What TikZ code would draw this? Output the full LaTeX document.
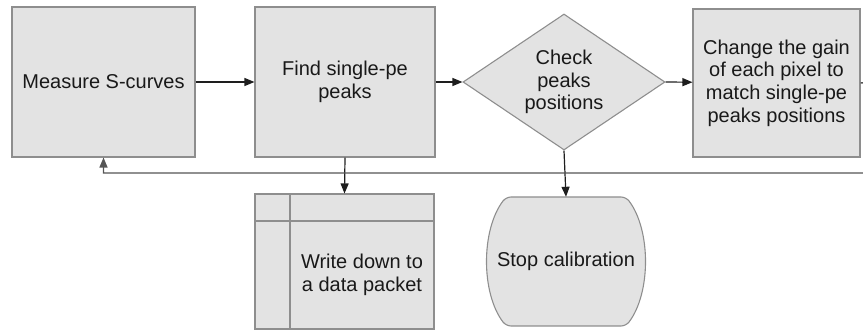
\documentclass[tikz,border=0pt]{standalone}
\usepackage{fontspec}
\setmainfont{Liberation Sans}
\usetikzlibrary{shapes.geometric,arrows.meta}
\definecolor{boxfill}{HTML}{E3E3E3}
\definecolor{boxline}{HTML}{8E8E8E}
\definecolor{linkline}{HTML}{1E1E1E}
\definecolor{loopline}{HTML}{555555}
\begin{document}
\begin{tikzpicture}[x=1pt,y=-1pt,
  every node/.style={font=\fontsize{20}{22.6}\selectfont, text=black!90, align=center},
  stepbox/.style={draw=boxline, fill=boxfill, line width=1.1pt, inner sep=2pt},
  decision/.style={diamond, draw=boxline, fill=boxfill, line width=1.1pt, inner sep=1pt,
                   aspect=1.485, minimum width=202pt, minimum height=136pt},
  outline/.style={draw=boxline, fill=boxfill, line width=1.1pt},
  link/.style={draw=linkline, line width=1.2pt, -{Triangle[length=10pt,width=8pt]}},
  loop/.style={draw=loopline, line width=1.4pt, -{Triangle[length=10pt,width=8pt]}}]
\useasboundingbox (0,0) rectangle (863,331);

% main row of steps
\node[stepbox, minimum width=183pt, minimum height=150pt] (m) at (103.5,82) {Measure S-curves};
\node[stepbox, minimum width=180pt, minimum height=150pt] (f) at (345,82) {Find single-pe\\peaks};
\node[decision] (c) at (564,82) {Check\\peaks\\positions};
\node[stepbox, minimum width=167pt, minimum height=148pt] (g) at (776.5,83)
  {Change the gain\\of each pixel to\\match single-pe\\peaks positions};

% stored data block with its header strips
\node[stepbox, minimum width=179pt, minimum height=135pt] (w) at (344.5,261.5) {};
\draw[boxline, line width=1.1pt] (290,194) -- (290,329);
\draw[boxline, line width=1.1pt] (255,221) -- (434,221);
\node (wt) at (362,275) {Write down to\\a data packet};

% terminal step with bulging sides
\draw[outline, rounded corners=5pt] (566,197) -- (626,197)
  .. controls (651,230) and (651,293) .. (626,326)
  -- (506,326) .. controls (481,293) and (481,230) .. (506,197) -- cycle;
\node[minimum width=160pt, minimum height=129pt, inner sep=0pt] (s) at (566,261.5) {Stop calibration};

% connectors
\draw[link] (m) -- (f);
\draw[link] (f) -- (c.west);
\draw[link] (c.east) -- (g);
\draw[link] (f.south) -- (w.north);
\draw[link] (c.south) -- (s.north);

% feedback loop back to the first step
\coordinate (back) at (872,82);
\draw[loop] (g.east) -- (back) -- (872,173) -| (m.south);
\end{tikzpicture}
\end{document}
